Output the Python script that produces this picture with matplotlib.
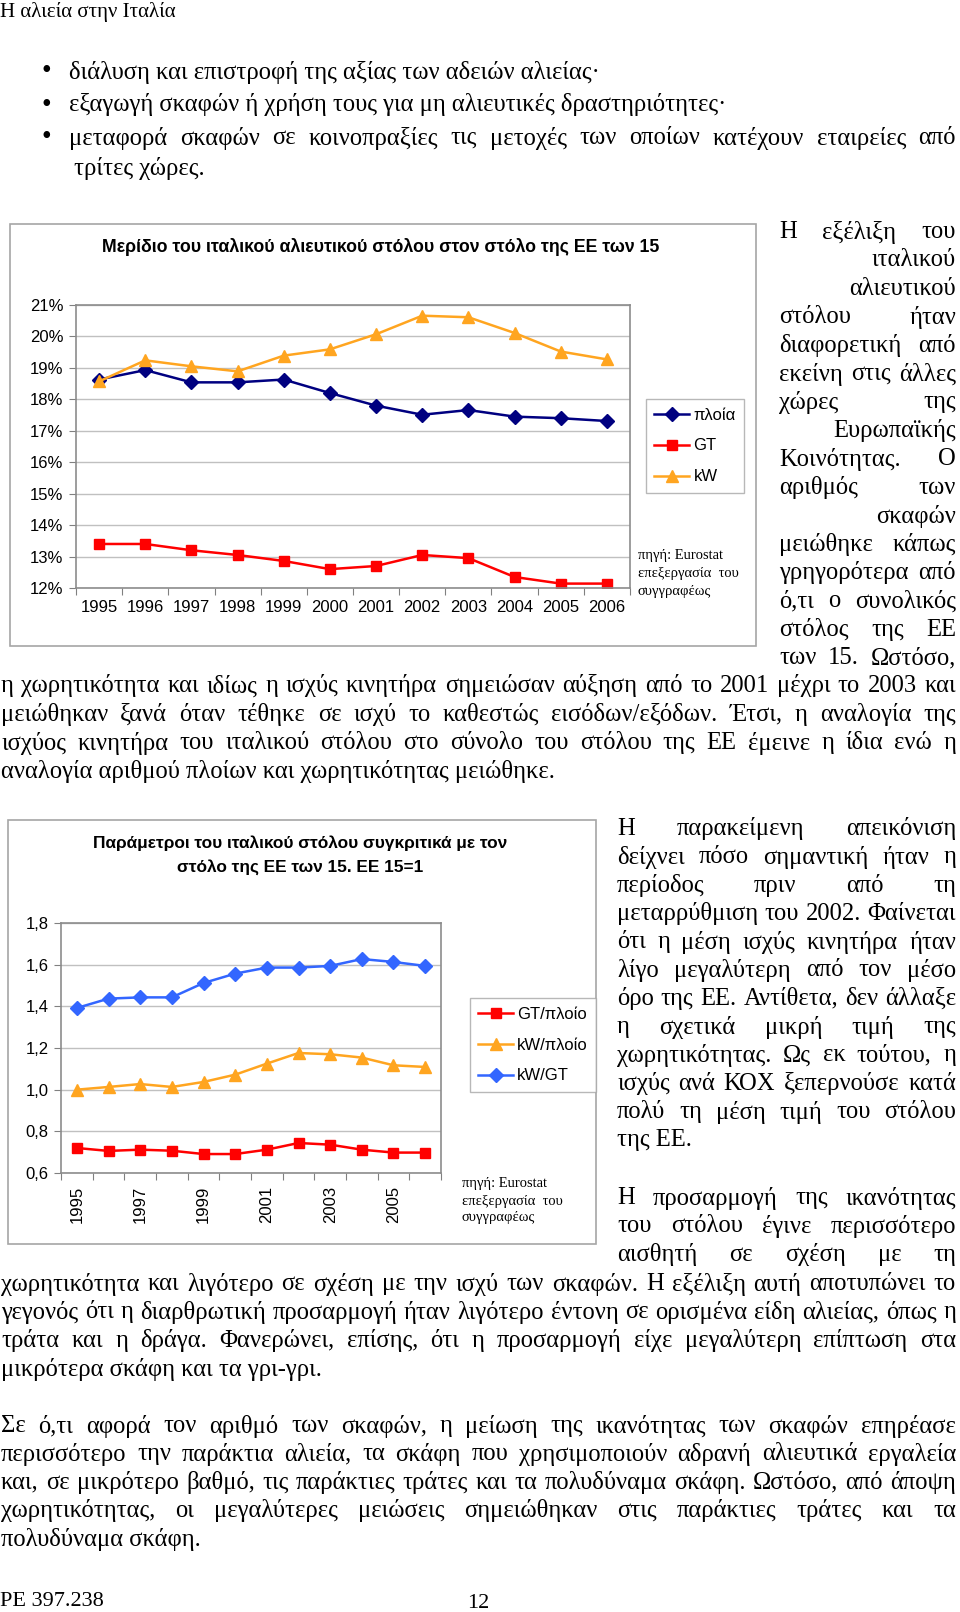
import matplotlib
matplotlib.use("Agg")
import matplotlib.pyplot as plt
from matplotlib.patches import Rectangle
from matplotlib.font_manager import FontProperties
from matplotlib.transforms import Bbox, TransformedBbox

W, H = 960, 1612

years = list(range(1995, 2007))

# chart 1: share of the Italian fleet in the EU-15 fleet (%)
share_vessels = [18.63, 18.93, 18.54, 18.54, 18.63, 18.20, 17.80, 17.51, 17.66, 17.45, 17.40, 17.31]
share_gt = [13.40, 13.40, 13.20, 13.05, 12.86, 12.60, 12.70, 13.05, 12.95, 12.35, 12.14, 12.14]
share_kw = [18.57, 19.24, 19.05, 18.89, 19.39, 19.59, 20.07, 20.66, 20.61, 20.11, 19.52, 19.27]
share_ticks = list(range(12, 22))
share_ticklabels = [f"{v}%" for v in share_ticks]
share_names = ["πλοία", "GT", "kW"]

# chart 2: Italian fleet parameters relative to EU-15 (EU-15 = 1)
gt_per_vessel = [0.720, 0.706, 0.712, 0.707, 0.691, 0.691, 0.712, 0.744, 0.736, 0.712, 0.698, 0.698]
kw_per_vessel = [1.000, 1.013, 1.027, 1.013, 1.037, 1.072, 1.125, 1.176, 1.170, 1.154, 1.117, 1.109]
kw_per_gt = [1.392, 1.437, 1.443, 1.443, 1.512, 1.557, 1.586, 1.586, 1.594, 1.627, 1.613, 1.594]
ratio_ticks = [0.6, 0.8, 1.0, 1.2, 1.4, 1.6, 1.8]
ratio_ticklabels = ["0,6", "0,8", "1,0", "1,2", "1,4", "1,6", "1,8"]
ratio_names = ["GT/πλοίο", "kW/πλοίο", "kW/GT"]

SERIF = "Liberation Serif"
SANS = "Liberation Sans"
BODY = 17.7

fig = plt.figure(figsize=(W / 100, H / 100), dpi=100)
fig.patch.set_facecolor("white")
renderer = fig.canvas.get_renderer()


def fx(x):
    return x / W


def fy(y):
    return 1 - y / H


def px_axes(x0, y0, x1, y1):
    return fig.add_axes([fx(x0), fy(y1), (x1 - x0) / W, (y1 - y0) / H])


def text_width(s, size, family=SERIF):
    prop = FontProperties(family=family, size=size)
    w, h, d = renderer.get_text_width_height_descent(s, prop, ismath=False)
    return w


def put(x, y, s, size=BODY, ha="left", family=SERIF, **kw):
    return fig.text(fx(x), fy(y), s, ha=ha, va="center", fontsize=size,
                    family=family, **kw)


def justify(x0, x1, y, line, size=BODY):
    words = line.split()
    if len(words) == 1:
        put(x1, y, line, size, ha="right")
        return
    widths = [text_width(w, size) for w in words]
    gap = (x1 - x0 - sum(widths)) / (len(words) - 1)
    x = x0
    for w, wd in zip(words, widths):
        put(x, y, w, size)
        x += wd + gap


def block(x0, x1, y0, step, lines):
    # lines ending with "|" are left aligned (last line of a paragraph)
    for i, line in enumerate(lines):
        y = y0 + i * step
        if line.endswith("|"):
            put(x0, y, line[:-1])
        else:
            justify(x0, x1, y, line)


def box(x0, y0, x1, y1):
    fig.add_artist(Rectangle((fx(x0), fy(y1)), (x1 - x0) / W, (y1 - y0) / H,
                             transform=fig.transFigure, facecolor="none",
                             edgecolor="#A6A6A6", lw=1.2))


def style_axes(ax, yticks, ylabels, ymin, ymax, xlabels, rot, size):
    ax.set_xlim(-0.5, len(years) - 0.5)
    ax.set_ylim(ymin, ymax)
    ax.set_yticks(yticks, ylabels)
    ax.set_xticks([i - 0.5 for i in range(len(years) + 1)], [])
    ax.set_xticks(range(len(years)), xlabels, minor=True)
    ax.tick_params(axis="x", which="major", length=5, color="#808080")
    ax.tick_params(axis="x", which="minor", length=0, pad=9,
                   labelsize=size, labelrotation=rot)
    ax.tick_params(axis="y", length=5, color="#808080", pad=4, labelsize=size)
    for lab in ax.get_xticklabels(minor=True) + ax.get_yticklabels():
        lab.set_family(SANS)
    ax.grid(axis="y", color="#C0C0C0", lw=1)
    ax.set_axisbelow(True)
    for sp in ax.spines.values():
        sp.set_color("#8C8C8C")
        sp.set_linewidth(1.2)


def legend(ax, cx, cy):
    h, l = ax.get_legend_handles_labels()
    leg = fig.legend(h, l, loc="center", bbox_to_anchor=(fx(cx), fy(cy)),
                     frameon=True, fancybox=False, edgecolor="#A6A6A6",
                     prop=FontProperties(family=SANS, size=12),
                     handlelength=2.1, labelspacing=0.95, borderpad=0.5,
                     handletextpad=0.25, borderaxespad=0)
    leg.get_frame().set_linewidth(1.0)


# header and bullet list
put(0, 12, "Η αλιεία στην Ιταλία", size=15)
bullets = [
    "διάλυση και επιστροφή της αξίας των αδειών αλιείας·|",
    "εξαγωγή σκαφών ή χρήση τους για μη αλιευτικές δραστηριότητες·|",
    "μεταφορά σκαφών σε κοινοπραξίες τις μετοχές των οποίων κατέχουν εταιρείες από",
]
for i, b in enumerate(bullets):
    y = 72 + i * 33
    put(46, y, "•", size=20, ha="center")
    block(69, 956, y, 0, [b])
put(74, 169, "τρίτες χώρες.")

# ---- chart 1 ----
box(10, 224, 756, 646)
put(381, 247, "Μερίδιο του ιταλικού αλιευτικού στόλου στον στόλο της ΕΕ των 15",
    size=12.8, ha="center", family=SANS, fontweight="bold")
ax1 = px_axes(76, 305, 630, 588)
xs = range(len(years))
ax1.plot(xs, share_vessels, color="#000080", marker="D", ms=7, lw=1.8, label=share_names[0])
ax1.plot(xs, share_gt, color="#FF0000", marker="s", ms=7, lw=1.8, label=share_names[1])
ax1.plot(xs, share_kw, color="#FFA520", marker="^", ms=9, lw=1.8, label=share_names[2])
style_axes(ax1, share_ticks, share_ticklabels, 12, 21, years, 0, 12)
legend(ax1, 695, 446)
clip1 = TransformedBbox(Bbox([[0, fy(598)], [1, 1]]), fig.transFigure)
for i, s in enumerate(["πηγή: Eurostat", "επεξεργασία  του", "συγγραφέως"]):
    t = put(638, 556 + i * 18, s, size=10.5)
    t.set_clip_box(clip1)
    t.set_clip_on(True)

# text around chart 1
right1 = [
    "Η εξέλιξη του",
    "ιταλικού",
    "αλιευτικού",
    "στόλου ήταν",
    "διαφορετική από",
    "εκείνη στις άλλες",
    "χώρες της",
    "Ευρωπαϊκής",
    "Κοινότητας. Ο",
    "αριθμός των",
    "σκαφών",
    "μειώθηκε κάπως",
    "γρηγορότερα από",
    "ό,τι ο συνολικός",
    "στόλος της ΕΕ",
    "των 15. Ωστόσο,",
]
block(779, 956, 232, 28.4, right1)
para1 = [
    "η χωρητικότητα και ιδίως η ισχύς κινητήρα σημειώσαν αύξηση από το 2001 μέχρι το 2003 και",
    "μειώθηκαν ξανά όταν τέθηκε σε ισχύ το καθεστώς εισόδων/εξόδων. Έτσι, η αναλογία της",
    "ισχύος κινητήρα του ιταλικού στόλου στο σύνολο του στόλου της ΕΕ έμεινε η ίδια ενώ η",
    "αναλογία αριθμού πλοίων και χωρητικότητας μειώθηκε.|",
]
block(1, 956, 686, 28.6, para1)

# ---- chart 2 ----
box(8, 820, 596, 1244)
put(300, 843, "Παράμετροι του ιταλικού στόλου συγκριτικά με τον",
    size=12.4, ha="center", family=SANS, fontweight="bold")
put(300, 867, "στόλο της ΕΕ των 15. ΕΕ 15=1",
    size=12.4, ha="center", family=SANS, fontweight="bold")
ax2 = px_axes(61, 923, 441, 1173)
ax2.plot(xs, gt_per_vessel, color="#FF0000", marker="s", ms=7, lw=1.8, label=ratio_names[0])
ax2.plot(xs, kw_per_vessel, color="#FFA520", marker="^", ms=9, lw=1.8, label=ratio_names[1])
ax2.plot(xs, kw_per_gt, color="#3366FF", marker="D", ms=7, lw=1.8, label=ratio_names[2])
ax2_labels = [str(y) if i % 2 == 0 else "" for i, y in enumerate(years)]
style_axes(ax2, ratio_ticks, ratio_ticklabels, 0.6, 1.8, ax2_labels, 90, 12)
legend(ax2, 533, 1045)
for i, s in enumerate(["πηγή: Eurostat", "επεξεργασία  του", "συγγραφέως"]):
    put(462, 1184 + i * 17, s, size=10.5)

right2 = [
    "Η παρακείμενη απεικόνιση",
    "δείχνει πόσο σημαντική ήταν η",
    "περίοδος πριν από τη",
    "μεταρρύθμιση του 2002. Φαίνεται",
    "ότι η μέση ισχύς κινητήρα ήταν",
    "λίγο μεγαλύτερη από τον μέσο",
    "όρο της ΕΕ. Αντίθετα, δεν άλλαξε",
    "η σχετικά μικρή τιμή της",
    "χωρητικότητας. Ως εκ τούτου, η",
    "ισχύς ανά ΚΟΧ ξεπερνούσε κατά",
    "πολύ τη μέση τιμή του στόλου",
    "της ΕΕ.|",
]
block(617, 956, 829, 28.3, right2)
right2b = [
    "Η προσαρμογή της ικανότητας",
    "του στόλου έγινε περισσότερο",
    "αισθητή σε σχέση με τη",
]
block(617, 956, 1198, 28.4, right2b)
para2 = [
    "χωρητικότητα και λιγότερο σε σχέση με την ισχύ των σκαφών. Η εξέλιξη αυτή αποτυπώνει το",
    "γεγονός ότι η διαρθρωτική προσαρμογή ήταν λιγότερο έντονη σε ορισμένα είδη αλιείας, όπως η",
    "τράτα και η δράγα. Φανερώνει, επίσης, ότι η προσαρμογή είχε μεγαλύτερη επίπτωση στα",
    "μικρότερα σκάφη και τα γρι-γρι.|",
]
block(1, 956, 1284, 28.4, para2)
para3 = [
    "Σε ό,τι αφορά τον αριθμό των σκαφών, η μείωση της ικανότητας των σκαφών επηρέασε",
    "περισσότερο την παράκτια αλιεία, τα σκάφη που χρησιμοποιούν αδρανή αλιευτικά εργαλεία",
    "και, σε μικρότερο βαθμό, τις παράκτιες τράτες και τα πολυδύναμα σκάφη. Ωστόσο, από άποψη",
    "χωρητικότητας, οι μεγαλύτερες μειώσεις σημειώθηκαν στις παράκτιες τράτες και τα",
    "πολυδύναμα σκάφη.|",
]
block(1, 956, 1426, 28.3, para3)

# footer
put(0, 1601, "PE 397.238", size=16)
put(478, 1604, "12", size=16, ha="center")

fig.savefig("out.png", dpi=100, facecolor="white")
